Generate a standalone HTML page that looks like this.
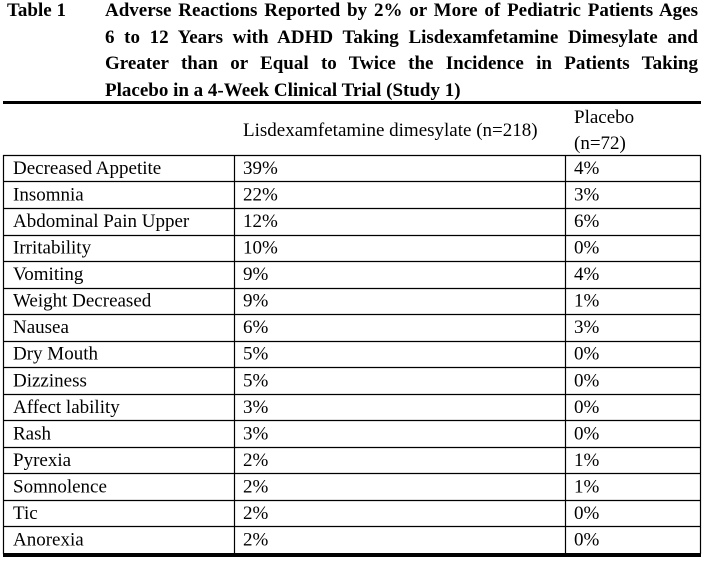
<!DOCTYPE html>
<html>
<head>
<meta charset="utf-8">
<style>
  html, body { margin:0; padding:0; background:#fff; }
  body { width:705px; height:562px; position:relative; overflow:hidden; }
  .t { position:absolute; font-family:"Liberation Serif", serif; font-weight:bold; font-size:19px; line-height:21px; color:#000; white-space:nowrap; }
  .j { left:105px; width:593px; text-align:justify; text-align-last:justify; white-space:normal; }
  svg { position:absolute; left:0; top:0; }
  svg text { font-family:"Liberation Serif", serif; font-size:19px; fill:#000; }
</style>
</head>
<body>
<div class="t" style="left:7px;top:0px;">Table 1</div>
<div class="t j" style="top:0px;">Adverse Reactions Reported by 2% or More of Pediatric Patients Ages</div>
<div class="t j" style="top:27px;">6 to 12 Years with ADHD Taking Lisdexamfetamine Dimesylate and</div>
<div class="t j" style="top:53px;">Greater than or Equal to Twice the Incidence in Patients Taking</div>
<div class="t" style="left:105px;top:80px;">Placebo in a 4-Week Clinical Trial (Study 1)</div>

<svg width="705" height="562" viewBox="0 0 705 562" xmlns="http://www.w3.org/2000/svg">
  <!-- thick top rule -->
  <rect x="3" y="101" width="698" height="3" fill="#000"/>
  <!-- header -->
  <text x="243" y="136">Lisdexamfetamine dimesylate (n=218)</text>
  <text x="574" y="123">Placebo</text>
  <text x="574" y="149">(n=72)</text>

  <!-- vertical lines -->
  <g stroke="#000" stroke-width="1.2" fill="none">
    <line x1="3.5" y1="155" x2="3.5" y2="554"/>
    <line x1="234.5" y1="155" x2="234.5" y2="554"/>
    <line x1="565.5" y1="155" x2="565.5" y2="554"/>
    <line x1="700.5" y1="155" x2="700.5" y2="554"/>
    <!-- horizontal row lines -->
    <line x1="3" y1="155.5" x2="701" y2="155.5"/>
    <line x1="3" y1="181.5" x2="701" y2="181.5"/>
    <line x1="3" y1="208.5" x2="701" y2="208.5"/>
    <line x1="3" y1="235.5" x2="701" y2="235.5"/>
    <line x1="3" y1="261.5" x2="701" y2="261.5"/>
    <line x1="3" y1="288.5" x2="701" y2="288.5"/>
    <line x1="3" y1="314.5" x2="701" y2="314.5"/>
    <line x1="3" y1="341.5" x2="701" y2="341.5"/>
    <line x1="3" y1="367.5" x2="701" y2="367.5"/>
    <line x1="3" y1="394.5" x2="701" y2="394.5"/>
    <line x1="3" y1="420.5" x2="701" y2="420.5"/>
    <line x1="3" y1="447.5" x2="701" y2="447.5"/>
    <line x1="3" y1="473.5" x2="701" y2="473.5"/>
    <line x1="3" y1="500.5" x2="701" y2="500.5"/>
    <line x1="3" y1="526.5" x2="701" y2="526.5"/>
  </g>
  <!-- thick bottom rule -->
  <rect x="3" y="553" width="698" height="4" fill="#000"/>

  <!-- rows -->
  <g>
    <text x="13" y="174">Decreased Appetite</text><text x="243" y="174">39%</text><text x="574" y="174">4%</text>
    <text x="13" y="200.5">Insomnia</text><text x="243" y="200.5">22%</text><text x="574" y="200.5">3%</text>
    <text x="13" y="227">Abdominal Pain Upper</text><text x="243" y="227">12%</text><text x="574" y="227">6%</text>
    <text x="13" y="253.6">Irritability</text><text x="243" y="253.6">10%</text><text x="574" y="253.6">0%</text>
    <text x="13" y="280.1">Vomiting</text><text x="243" y="280.1">9%</text><text x="574" y="280.1">4%</text>
    <text x="13" y="306.7">Weight Decreased</text><text x="243" y="306.7">9%</text><text x="574" y="306.7">1%</text>
    <text x="13" y="333.2">Nausea</text><text x="243" y="333.2">6%</text><text x="574" y="333.2">3%</text>
    <text x="13" y="359.7">Dry Mouth</text><text x="243" y="359.7">5%</text><text x="574" y="359.7">0%</text>
    <text x="13" y="386.3">Dizziness</text><text x="243" y="386.3">5%</text><text x="574" y="386.3">0%</text>
    <text x="13" y="412.8">Affect lability</text><text x="243" y="412.8">3%</text><text x="574" y="412.8">0%</text>
    <text x="13" y="439.3">Rash</text><text x="243" y="439.3">3%</text><text x="574" y="439.3">0%</text>
    <text x="13" y="465.8">Pyrexia</text><text x="243" y="465.8">2%</text><text x="574" y="465.8">1%</text>
    <text x="13" y="492.4">Somnolence</text><text x="243" y="492.4">2%</text><text x="574" y="492.4">1%</text>
    <text x="13" y="518.9">Tic</text><text x="243" y="518.9">2%</text><text x="574" y="518.9">0%</text>
    <text x="13" y="545.4">Anorexia</text><text x="243" y="545.4">2%</text><text x="574" y="545.4">0%</text>
  </g>
</svg>
</body>
</html>
